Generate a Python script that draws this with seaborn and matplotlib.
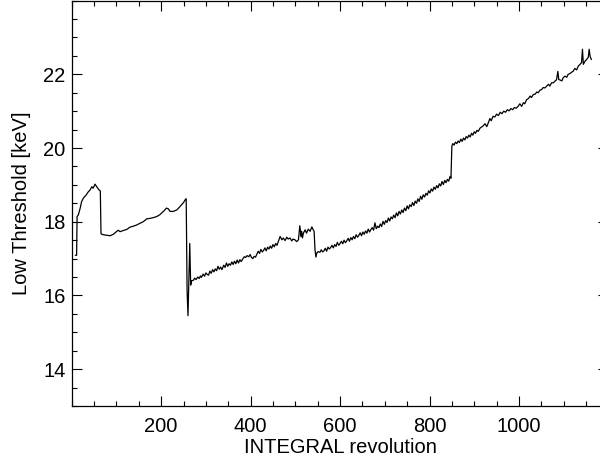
#!/usr/bin/env python3
"""
Plot the evolution of the low energy threshold vs INTEGRAL revolution.

Usage:
    python3 plot.py
"""

import matplotlib
matplotlib.use("Agg")

import matplotlib.pyplot as plt
import pandas as pd
import seaborn as sns
from matplotlib.ticker import MultipleLocator

# Threshold history, split into pieces
# (revolution number, low threshold in keV)

# first rise after launch
REV_START = [8, 11, 12, 15, 19, 22, 26, 32, 37, 41, 45, 48, 52, 56, 60, 64]
KEV_START = [17.09, 17.09, 18.14, 18.19, 18.37, 18.54, 18.64, 18.72, 18.81,
             18.86, 18.95, 18.91, 19.02, 18.95, 18.88, 18.83]

# after the first reset
REV_FIRST = [65.5, 67, 74, 86, 93, 100, 104, 108, 115, 123, 130, 138, 145,
             153, 160, 168, 175, 182, 190, 197, 205, 212, 216, 220, 227, 235,
             242, 250, 255]
KEV_FIRST = [17.68, 17.66, 17.64, 17.62, 17.66, 17.73, 17.77, 17.73, 17.76,
             17.79, 17.85, 17.88, 17.91, 17.96, 18.00, 18.08, 18.09, 18.11,
             18.14, 18.19, 18.28, 18.37, 18.35, 18.28, 18.28, 18.32, 18.41,
             18.52, 18.62]

# drop around revolution 256
REV_DROP = [256, 258, 260, 262, 264, 266, 268]
KEV_DROP = [18.62, 16.12, 15.45, 16.45, 17.41, 16.28, 16.40]

REV_SECOND = [272, 275, 278, 282, 285, 288, 290, 294, 297, 300, 303, 306, 309,
              312, 315, 318, 321, 324, 327, 330, 333, 336, 340, 343, 346, 349,
              352, 355, 358, 361, 364, 367, 370, 373, 376, 379, 383, 386, 389,
              392, 396, 399, 402, 405, 408, 411, 414, 417, 420, 423, 426, 429,
              432, 435, 438, 441, 444, 447, 450, 453, 456, 459, 462]
KEV_SECOND = [16.41, 16.47, 16.43, 16.50, 16.46, 16.53, 16.49, 16.58, 16.52,
              16.61, 16.57, 16.55, 16.66, 16.60, 16.70, 16.64, 16.72, 16.67,
              16.79, 16.71, 16.77, 16.70, 16.82, 16.76, 16.88, 16.79, 16.86,
              16.82, 16.91, 16.84, 16.93, 16.86, 16.96, 16.88, 16.97, 16.92,
              17.00, 17.05, 17.03, 17.08, 17.05, 17.11, 17.03, 17.00, 17.06,
              17.04, 17.12, 17.20, 17.14, 17.25, 17.18, 17.22, 17.29, 17.21,
              17.31, 17.26, 17.34, 17.28, 17.38, 17.32, 17.41, 17.36, 17.46]

REV_PLATEAU = [466, 470, 473, 477, 481, 484, 488, 492, 495, 499, 503, 507, 510,
               513, 514, 516, 518, 522, 525, 529, 533, 537, 540, 542, 544, 546,
               548, 551]
KEV_PLATEAU = [17.60, 17.51, 17.56, 17.49, 17.58, 17.53, 17.56, 17.48, 17.53,
               17.51, 17.46, 17.51, 17.89, 17.60, 17.74, 17.56, 17.69, 17.78,
               17.69, 17.80, 17.74, 17.86, 17.78, 17.74, 17.24, 17.04, 17.15,
               17.19]

REV_THIRD = [555, 558, 561, 564, 567, 570, 573, 576, 579, 582, 585, 588, 591,
             594, 597, 600, 603, 606, 609, 612, 615, 618, 621, 624, 627, 630,
             633, 636, 639, 642, 645, 648, 651, 654, 657, 660, 663, 666, 669,
             672, 675, 678, 681, 684, 687, 690, 693, 696, 699, 702, 705, 708,
             711, 714, 717, 720, 723, 726, 729, 732, 735, 738, 741, 744, 747,
             750, 753, 756, 759, 762, 765, 768, 771, 774, 777, 780, 783, 786,
             789, 792, 795, 798, 801, 804, 807, 810, 813, 816, 819, 822, 825,
             828, 831, 834, 837, 840, 843, 846, 848]
KEV_THIRD = [17.17, 17.24, 17.18, 17.21, 17.28, 17.20, 17.31, 17.26, 17.30,
             17.36, 17.29, 17.38, 17.33, 17.44, 17.36, 17.41, 17.47, 17.40,
             17.50, 17.43, 17.48, 17.55, 17.47, 17.57, 17.51, 17.60, 17.54,
             17.65, 17.58, 17.63, 17.70, 17.62, 17.72, 17.66, 17.75, 17.69,
             17.80, 17.72, 17.79, 17.84, 17.77, 17.97, 17.81, 17.88, 17.84,
             17.94, 17.87, 18.01, 17.93, 18.03, 17.98, 18.10, 18.02, 18.13,
             18.08, 18.18, 18.11, 18.24, 18.16, 18.28, 18.21, 18.32, 18.25,
             18.37, 18.30, 18.43, 18.35, 18.46, 18.41, 18.52, 18.44, 18.56,
             18.50, 18.62, 18.55, 18.69, 18.61, 18.73, 18.67, 18.77, 18.72,
             18.84, 18.78, 18.89, 18.83, 18.94, 18.88, 18.98, 18.92, 19.03,
             18.97, 19.09, 19.01, 19.12, 19.06, 19.15, 19.10, 19.23, 19.18]

# after the step near revolution 850
REV_FOURTH = [850, 852, 855, 858, 861, 864, 867, 870, 873, 876, 879, 882, 885,
              888, 891, 894, 897, 900, 903, 906, 909, 913]
KEV_FOURTH = [20.05, 20.12, 20.08, 20.16, 20.12, 20.19, 20.15, 20.24, 20.18,
              20.27, 20.22, 20.31, 20.27, 20.35, 20.30, 20.40, 20.35, 20.44,
              20.40, 20.48, 20.45, 20.54]

REV_LATE = [920, 924, 928, 932, 935, 938, 942, 946, 950, 954, 958, 962, 966,
            970, 974, 978, 982, 986, 990, 994, 998, 1002, 1006, 1010, 1013,
            1017, 1021, 1025, 1028, 1032, 1036, 1040, 1043, 1047, 1051, 1054,
            1058, 1062, 1066, 1069, 1073, 1077, 1081, 1084, 1087, 1089, 1093,
            1096, 1099, 1103, 1107, 1110, 1114, 1118, 1121, 1125, 1129, 1133,
            1136, 1140, 1142, 1144, 1148, 1151, 1155, 1157, 1159, 1162]
KEV_LATE = [20.60, 20.66, 20.58, 20.70, 20.80, 20.74, 20.86, 20.84, 20.92,
            20.88, 20.97, 20.93, 21.00, 20.97, 21.04, 21.01, 21.07, 21.04,
            21.10, 21.08, 21.13, 21.20, 21.13, 21.23, 21.20, 21.31, 21.34,
            21.41, 21.37, 21.45, 21.46, 21.52, 21.50, 21.57, 21.59, 21.64,
            21.63, 21.68, 21.73, 21.68, 21.77, 21.77, 21.82, 21.85, 22.08,
            21.86, 21.84, 21.82, 21.91, 21.95, 21.92, 22.00, 22.02, 22.06,
            22.08, 22.16, 22.12, 22.23, 22.26, 22.32, 22.68, 22.27, 22.36,
            22.40, 22.46, 22.68, 22.49, 22.40]

X_MAJOR_TICKS = [200, 400, 600, 800, 1000]
Y_MAJOR_TICKS = [14, 16, 18, 20, 22]


def build_frame() -> pd.DataFrame:
    """Join the pieces of the threshold history into one DataFrame."""
    pieces = [
        (REV_START, KEV_START),
        (REV_FIRST, KEV_FIRST),
        (REV_DROP, KEV_DROP),
        (REV_SECOND, KEV_SECOND),
        (REV_PLATEAU, KEV_PLATEAU),
        (REV_THIRD, KEV_THIRD),
        (REV_FOURTH, KEV_FOURTH),
        (REV_LATE, KEV_LATE),
    ]
    frames = [pd.DataFrame({"revolution": rev, "low_threshold": kev})
              for rev, kev in pieces]
    return pd.concat(frames, ignore_index=True)


def plot_threshold(df: pd.DataFrame, out_path: str = "out.png"):
    """Draw the low threshold history in an IDL-like style."""
    sns.set_theme(style="ticks")
    plt.rcParams["font.family"] = ["Liberation Sans", "DejaVu Sans"]
    plt.rcParams["axes.labelcolor"] = "black"

    fig = plt.figure(figsize=(6.0, 4.61), dpi=100)
    # axes run past the right edge of the canvas, as in the cropped original
    ax = fig.add_axes([71.7 / 600, 55.0 / 461, 536.7 / 600, 405.4 / 461])

    sns.lineplot(data=df, x="revolution", y="low_threshold", ax=ax,
                 color="black", linewidth=0.9, estimator=None, sort=False)

    ax.set_xlim(0, 1200)
    ax.set_ylim(13, 24)

    ax.set_xticks(X_MAJOR_TICKS)
    ax.set_yticks(Y_MAJOR_TICKS)
    ax.xaxis.set_minor_locator(MultipleLocator(50))
    ax.yaxis.set_minor_locator(MultipleLocator(0.5))

    ax.tick_params(which="both", direction="in", top=True, right=True,
                   color="black", width=0.8, labelsize=14.5,
                   labelcolor="black")
    ax.tick_params(which="major", length=7.2)
    ax.tick_params(which="minor", length=3.6)
    ax.tick_params(axis="x", which="major", pad=8)
    ax.tick_params(axis="y", which="major", pad=4.5)

    for spine in ax.spines.values():
        spine.set_color("black")
        spine.set_linewidth(0.9)

    ax.set_xlabel("INTEGRAL revolution", fontsize=14.5, labelpad=1,
                  color="black")
    ax.set_ylabel("Low Threshold [keV]", fontsize=14.5, labelpad=9,
                  color="black")

    fig.savefig(out_path, dpi=100)
    plt.close(fig)


def main():
    df = build_frame()
    plot_threshold(df)


if __name__ == "__main__":
    main()
